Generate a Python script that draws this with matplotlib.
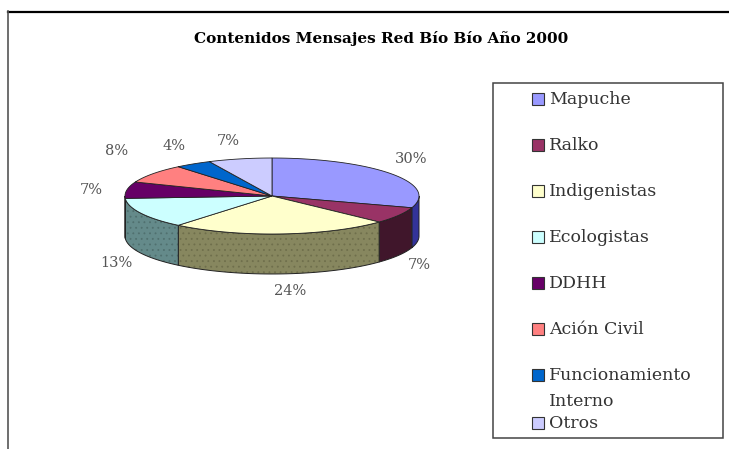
import numpy as np
import matplotlib
matplotlib.use('Agg')
import matplotlib.pyplot as plt
from matplotlib.patches import Polygon, Rectangle

categorias = ['Mapuche', 'Ralko', 'Indigenistas', 'Ecologistas', 'DDHH',
              'Ación Civil', 'Funcionamiento\nInterno', 'Otros']
valores = [30, 7, 24, 13, 7, 8, 4, 7]
etiquetas = ['30%', '7%', '24%', '13%', '7%', '8%', '4%', '7%']
titulo = 'Contenidos Mensajes Red Bío Bío Año 2000'

colores = ['#9999ff', '#993366', '#ffffcc', '#ccffff',
           '#660066', '#ff8080', '#0066cc', '#ccccff']
colores_lado = ['#333399', '#40162b', '#87875f', '#648a8a',
                '#330033', '#804040', '#003366', '#666680']
colores_trama = {2: '#6f6f4c', 3: '#50706f'}

plt.rcParams['font.family'] = ['DejaVu Serif', 'Liberation Serif']
plt.rcParams['hatch.linewidth'] = 0.6

fig = plt.figure(figsize=(7.29, 4.49), dpi=100)
ax = fig.add_axes([0, 0, 1, 1])
ax.set_xlim(0, 729)
ax.set_ylim(449, 0)
ax.axis('off')

# tarta, centro y radios en pixeles
cx, cy = 272, 196
rx, ry = 147, 38
alto = 40


def punto(t):
    # t en grados, 0 arriba y en sentido horario
    r = np.radians(t)
    return cx + rx * np.sin(r), cy - ry * np.cos(r)


limites = np.cumsum([0] + valores) / sum(valores) * 360

# lados primero, solo la mitad de abajo se ve
for i in range(len(valores)):
    ini = max(limites[i], 90)
    fin = min(limites[i + 1], 270)
    if ini >= fin:
        continue
    ts = np.linspace(ini, fin, 60)
    xs, ys = punto(ts)
    lado = list(zip(xs, ys)) + list(zip(xs[::-1], ys[::-1] + alto))
    if i in colores_trama:
        ax.add_patch(Polygon(lado, closed=True, facecolor=colores_lado[i],
                             edgecolor=colores_trama[i], linewidth=0, hatch='...'))
    else:
        ax.add_patch(Polygon(lado, closed=True, facecolor=colores_lado[i], linewidth=0))
    ax.add_patch(Polygon(lado, closed=True, fill=False, edgecolor='#222222', linewidth=0.7))

# cara de arriba
for i in range(len(valores)):
    ts = np.linspace(limites[i], limites[i + 1], 60)
    xs, ys = punto(ts)
    ax.add_patch(Polygon([(cx, cy)] + list(zip(xs, ys)), closed=True,
                         facecolor=colores[i], edgecolor='#222222', linewidth=0.6))

pos_etiquetas = [(411, 159), (419, 265), (290, 291), (116, 263),
                 (91, 190), (117, 151), (174, 146), (228, 141)]
for (x, y), texto in zip(pos_etiquetas, etiquetas):
    ax.text(x, y, texto, ha='center', va='center', fontsize=10.5, color='#555555')

ax.text(381, 38, titulo, ha='center', va='center', fontsize=11,
        fontweight='bold', color='black')

# marco de arriba e izquierda
ax.plot([8, 729], [11.5, 11.5], color='black', linewidth=1.6)
ax.plot([8.5, 8.5], [11, 449], color='#555555', linewidth=1.2)

# leyenda
ax.add_patch(Rectangle((493, 83), 230, 355, facecolor='white',
                       edgecolor='#444444', linewidth=1.1))
pos_leyenda = [99, 145, 191, 237, 283, 329, 375, 423]
for y, nombre, color in zip(pos_leyenda, categorias, colores):
    ax.add_patch(Rectangle((532.5, y - 6), 12, 12, facecolor=color,
                           edgecolor='#333333', linewidth=0.8))
    lineas = nombre.split('\n')
    ax.text(549, y, lineas[0], ha='left', va='center', fontsize=12.5, color='#333333')
    if len(lineas) > 1:
        ax.text(549, y + 26, lineas[1], ha='left', va='center', fontsize=12.5,
                color='#333333')

fig.savefig('out.png', dpi=100)
